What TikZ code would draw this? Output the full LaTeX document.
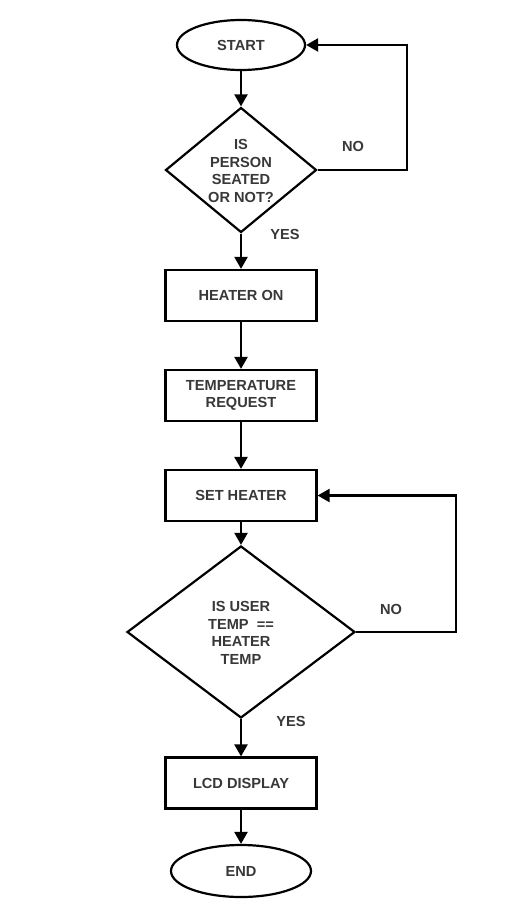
\documentclass[tikz,border=0pt]{standalone}
\usepackage{fontspec}
\setmainfont{Liberation Sans}
\usetikzlibrary{shapes.geometric,arrows.meta}
\begin{document}
\begin{tikzpicture}[x=1pt,y=-1pt,
  every node/.style={font=\fontsize{14.6}{17.6}\selectfont\bfseries,text=black!78,align=center},
  termbox/.style={draw=black,line width=2.2pt,ellipse,inner sep=0pt},
  procbox/.style={draw=black,line width=2.2pt,rectangle,minimum width=151pt,minimum height=51pt,inner sep=0pt},
  decbox/.style={draw=black,line width=2.2pt,diamond,inner sep=0pt},
  arr/.style={line width=2.2pt,-{Triangle[length=12pt,width=13pt]}},
  line/.style={line width=2.2pt}]
\fill[white] (0,0) rectangle (523,920);
\useasboundingbox (0,0) rectangle (523,920);
% shapes
\node[termbox,minimum width=128pt,minimum height=50pt] (start) at (241,45) {START};
\node[decbox,minimum width=151pt,minimum height=125pt] (seated) at (241,170) {};
\node (seatedtxt) at (241,171) {IS\\PERSON\\SEATED\\OR NOT?};
\node[procbox] (heater) at (241,295.5) {HEATER ON};
\node[procbox] (request) at (241,395.5) {TEMPERATURE\\REQUEST};
\node[procbox] (setheater) at (241,495.5) {SET HEATER};
\node[decbox,minimum width=228pt,minimum height=172pt] (compare) at (241,632) {};
\node (comparetxt) at (241,633) {IS USER\\TEMP\ \ ==\\HEATER\\TEMP};
\node[procbox] (lcd) at (241,783) {LCD DISPLAY};
\node[termbox,minimum width=140pt,minimum height=52pt] (end) at (241,871) {END};
% arrows
\draw[arr] (start) -- (seated);
\draw[arr] (seated) -- (heater);
\draw[arr] (heater) -- (request);
\draw[arr] (request) -- (setheater);
\draw[arr] (setheater) -- (compare);
\draw[arr] (compare) -- (lcd);
\draw[arr] (lcd) -- (end);
\draw[arr] (seated.east) -- ++(89,0) |- (start.east);
\draw[arr] (compare.east) -- ++(100,0) |- (setheater.east);
% labels
\node (no1) at (353,146) {NO};
\node (yes1) at (285,234) {YES};
\node (no2) at (391,609) {NO};
\node (yes2) at (291,721) {YES};
\end{tikzpicture}
\end{document}
